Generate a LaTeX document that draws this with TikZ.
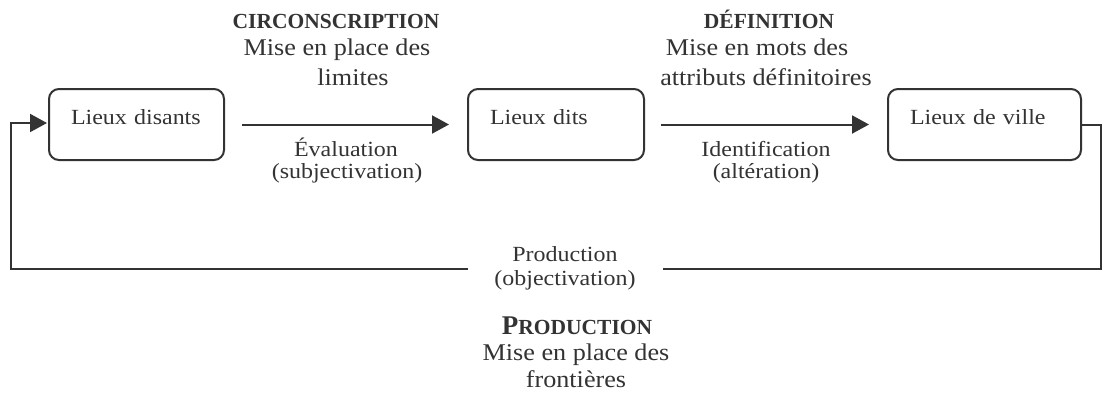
\documentclass[tikz,border=0pt]{standalone}
\usepackage{fontspec}
\setmainfont{Liberation Serif}
\newfontfamily\smallf{Liberation Serif}[FakeStretch=1.11]
\newfontfamily\bigf{Liberation Serif}[FakeStretch=1.09]
\usetikzlibrary{arrows.meta}
\definecolor{ink}{HTML}{333333}
\begin{document}
\begin{tikzpicture}[x=1pt,y=-1pt, line width=2pt, draw=ink, text=ink,
 box/.style={draw=ink, rounded corners=10pt, text height=35.5pt, text depth=35.5pt,
   inner ysep=0pt, inner xsep=22pt, align=left, font=\smallf\fontsize{21.6}{22}\selectfont},
 sm/.style={anchor=base, inner sep=0pt, font=\smallf\fontsize{21.6}{22}\selectfont},
 bg/.style={anchor=base, inner sep=0pt, font=\bigf\fontsize{24}{28}\selectfont},
 hd/.style={anchor=base, inner sep=0pt, font=\bfseries\fontsize{21.5}{26}\selectfont},
 arr/.style={draw=ink, -{Triangle[length=17pt,width=18pt]}}]
\useasboundingbox (0,0) rectangle (1102,399);

% boxes
\node[box, text width=131pt] (b1) at (136.5,124.5) {Lieux disants};
\node[box, text width=132pt] (b2) at (556,124.5) {Lieux dits};
\node[box, text width=149pt] (b3) at (984.5,124.5) {Lieux de ville};

% top headings
\node[hd] (h1) at (336,28) {CIRCONSCRIPTION};
\node[bg] (h1a) at (337,55) {Mise en place des};
\node[bg] (h1b) at (353,85) {limites};
\node[hd] (h2) at (769,28) {DÉFINITION};
\node[bg] (h2a) at (757,55) {Mise en mots des};
\node[bg] (h2b) at (766,85) {attributs définitoires};

% arrow labels
\node[sm] (e1) at (346,156) {Évaluation};
\node[sm] (e2) at (347,178) {(subjectivation)};
\node[sm] (i1) at (766,156) {Identification};
\node[sm] (i2) at (766,178) {(altération)};
\node[sm] (p1) at (565,261) {Production};
\node[sm] (p2) at (565,285) {(objectivation)};

% bottom heading
\node[hd] (h3) at (577,334) {{\fontsize{27}{30}\selectfont P}RODUCTION};
\node[bg] (h3a) at (576,360) {Mise en place des};
\node[bg] (h3b) at (576,387) {frontières};

% connectors
\draw[arr] ([xshift=17pt]b1.east) -- ([xshift=-18pt]b2.west);
\draw[arr] ([xshift=16pt]b2.east) -- ([xshift=-18pt]b3.west);

\coordinate (cTR) at (1100.5,124.5);
\coordinate (cBR) at (1100.5,269);
\coordinate (gR) at (663,269);
\coordinate (gL) at (468,269);
\coordinate (cBL) at (10.5,269);
\coordinate (cTL) at (10.5,123);
\coordinate (tipL) at (47,123);

\draw[draw=ink] (b3.east) -- (cTR) -- (cBR) -- (gR);
\draw[arr] (gL) -- (cBL) -- (cTL) -- (tipL);
\end{tikzpicture}
\end{document}
